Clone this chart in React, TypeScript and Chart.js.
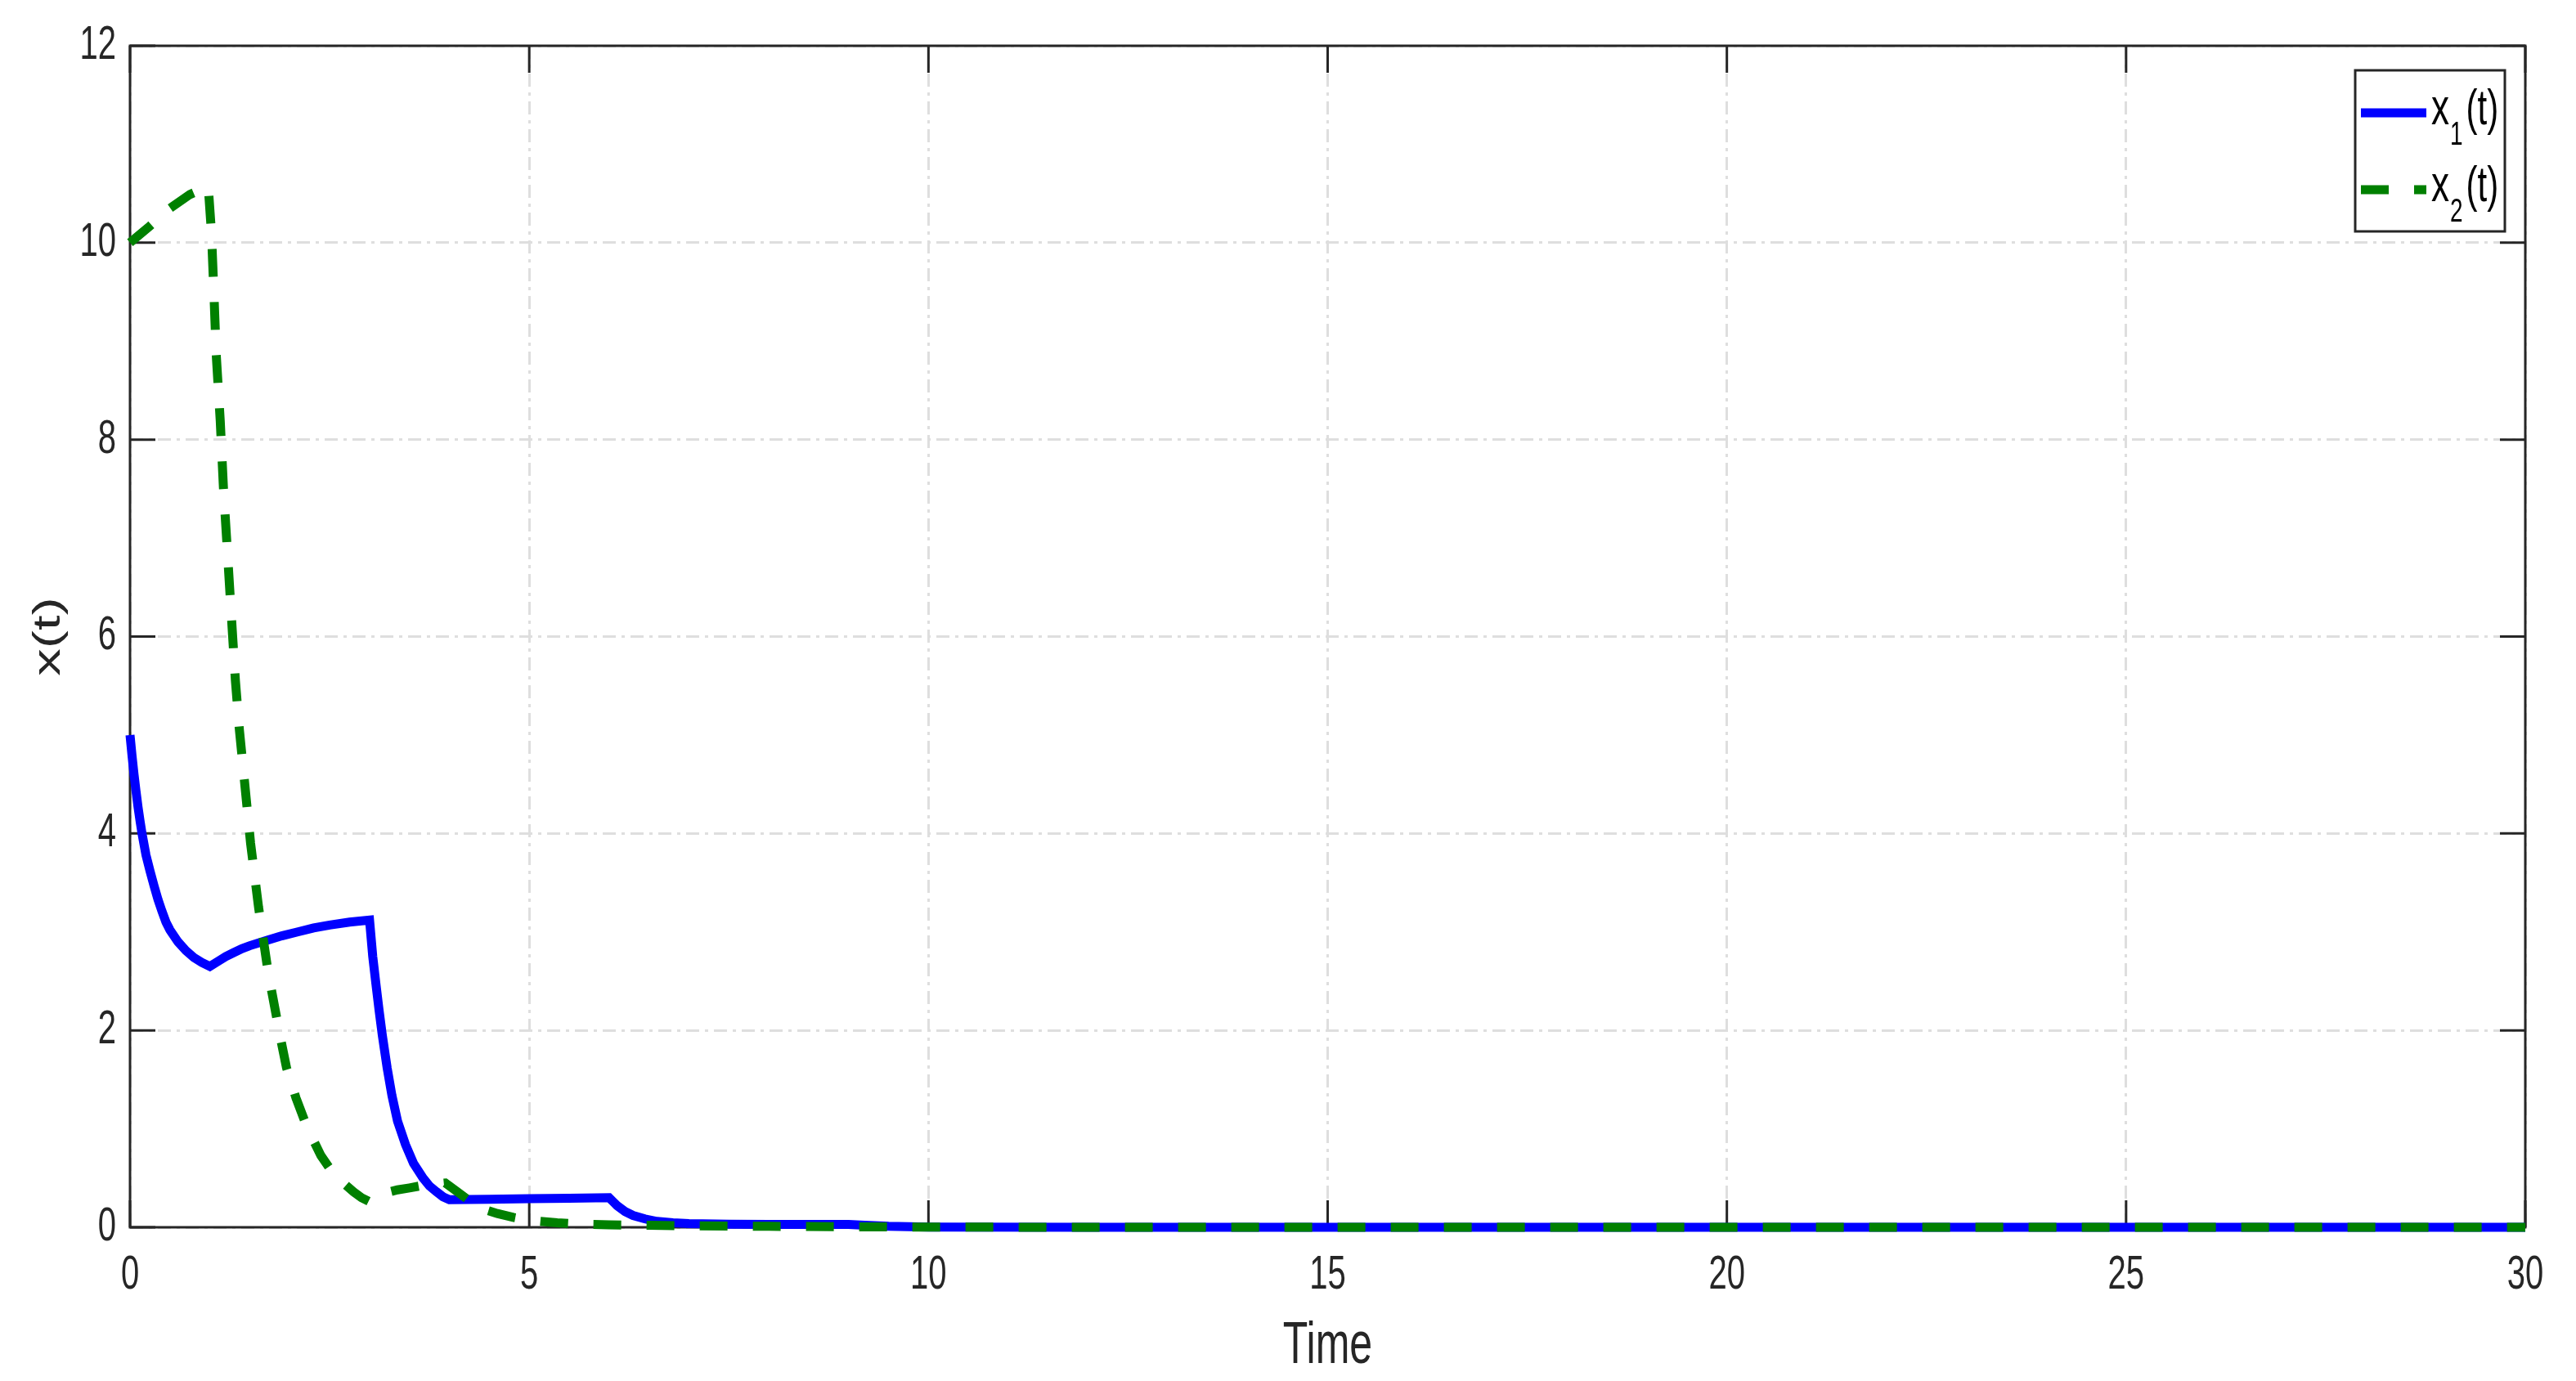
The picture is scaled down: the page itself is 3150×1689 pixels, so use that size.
import { useEffect, useRef } from 'react';
import { Chart, ChartConfiguration, registerables } from 'chart.js';

Chart.register(...registerables);

// x1(t): solid blue
const x1Time = [
  0, 0.025, 0.05, 0.075, 0.1, 0.125, 0.15, 0.2, 0.25, 0.3, 0.35, 0.4, 0.45, 0.5, 0.6, 0.7, 0.8, 0.9, 1.0,
  1.1, 1.2, 1.3, 1.4, 1.5, 1.7, 1.9, 2.1, 2.3, 2.5, 2.75, 3.0,
  3.04, 3.08, 3.12, 3.16, 3.22, 3.28, 3.35, 3.45, 3.55, 3.67, 3.75, 3.84, 3.92, 4.0,
  4.5, 5.0, 5.5, 6.0,
  6.05, 6.1, 6.2, 6.3, 6.45, 6.6, 6.8, 7.0, 7.5, 8.0, 9.0, 9.2, 9.5, 10, 12, 30,
];
const x1Values = [
  5.0, 4.79, 4.6, 4.43, 4.27, 4.13, 4.0, 3.78, 3.62, 3.47, 3.33, 3.21, 3.1, 3.02, 2.9, 2.81, 2.74, 2.69, 2.65,
  2.7, 2.75, 2.79, 2.83, 2.86, 2.91, 2.96, 3.0, 3.04, 3.07, 3.1, 3.12,
  2.75, 2.47, 2.2, 1.95, 1.62, 1.34, 1.08, 0.84, 0.65, 0.5, 0.42, 0.36, 0.31, 0.28,
  0.285, 0.29, 0.295, 0.3,
  0.26, 0.22, 0.16, 0.12, 0.085, 0.06, 0.045, 0.037, 0.032, 0.03, 0.03, 0.02, 0.01, 0.003, 0, 0,
];

// x2(t): dashed green
const x2Time = [
  0, 0.25, 0.5, 0.75, 0.98,
  1.02, 1.05, 1.08, 1.13, 1.17, 1.22, 1.27, 1.32, 1.37, 1.43, 1.51, 1.61, 1.73, 1.88,
  1.96, 2.08, 2.22, 2.39, 2.5, 2.61, 2.7, 2.8, 2.9, 3.0,
  3.1, 3.2, 3.35, 3.5, 3.7, 3.95,
  4.1, 4.25, 4.4, 4.6, 4.8, 5.0, 5.35, 5.7, 6.0, 6.5, 7.0, 8.0, 9.0, 10, 12, 30,
];
const x2Values = [
  10.0, 10.17, 10.35, 10.49, 10.57,
  10.1, 9.5, 8.86, 8.19, 7.51, 6.86, 6.2, 5.55, 5.05, 4.56, 3.9, 3.25, 2.59, 1.94,
  1.62, 1.31, 1.01, 0.73, 0.6, 0.5, 0.43, 0.36, 0.3, 0.26,
  0.31, 0.35, 0.38, 0.4, 0.43, 0.45,
  0.36, 0.27, 0.19, 0.14, 0.1, 0.07, 0.045, 0.03, 0.025, 0.02, 0.015, 0.01, 0.005, 0.002, 0, 0,
];

const seriesLabels = ['x_1(t)', 'x_2(t)'];
const xTicks = [0, 5, 10, 15, 20, 25, 30];
const yTicks = [0, 2, 4, 6, 8, 10, 12];
const xTitle = 'Time';
const yTitle = 'x(t)';

const AXIS_COLOR = '#262626';
const FONT = "'Liberation Sans', Arial, sans-serif";
// the original figure was exported with text stretched vertically
const STRETCH = 1.45;

function tallText(
  ctx: CanvasRenderingContext2D,
  text: string,
  x: number,
  y: number,
  size: number,
  align: CanvasTextAlign,
  baseline: CanvasTextBaseline,
  rotate = false
) {
  ctx.save();
  ctx.translate(x, y);
  ctx.scale(1, STRETCH);
  if (rotate) ctx.rotate(-Math.PI / 2);
  ctx.font = `${size}px ${FONT}`;
  ctx.textAlign = align;
  ctx.textBaseline = baseline;
  ctx.fillText(text, 0, 0);
  ctx.restore();
  ctx.font = `${size}px ${FONT}`;
  return ctx.measureText(text).width;
}

// MATLAB style box, inward ticks, labels and boxed legend
const matlabAxes = {
  id: 'matlabAxes',
  beforeDatasetsDraw(chart: any) {
    const { ctx, chartArea: a, scales } = chart;
    ctx.save();
    ctx.strokeStyle = AXIS_COLOR;
    ctx.lineWidth = 3;
    ctx.setLineDash([]);
    ctx.beginPath();
    xTicks.forEach(v => {
      const px = scales.x.getPixelForValue(v);
      ctx.moveTo(px, a.bottom);
      ctx.lineTo(px, a.bottom - 33);
      ctx.moveTo(px, a.top);
      ctx.lineTo(px, a.top + 33);
    });
    yTicks.forEach(v => {
      const py = scales.y.getPixelForValue(v);
      ctx.moveTo(a.left, py);
      ctx.lineTo(a.left + 31, py);
      ctx.moveTo(a.right, py);
      ctx.lineTo(a.right - 31, py);
    });
    ctx.stroke();
    ctx.strokeRect(a.left, a.top, a.right - a.left, a.bottom - a.top);

    ctx.fillStyle = AXIS_COLOR;
    xTicks.forEach(v => {
      tallText(ctx, String(v), scales.x.getPixelForValue(v), a.bottom + 59, 40, 'center', 'middle');
    });
    yTicks.forEach(v => {
      tallText(ctx, String(v), a.left - 17, scales.y.getPixelForValue(v), 40, 'right', 'middle');
    });
    tallText(ctx, xTitle, (a.left + a.right) / 2, a.bottom + 146, 50, 'center', 'middle');
    tallText(ctx, yTitle, 60, (a.top + a.bottom) / 2, 46, 'center', 'middle', true);
    ctx.restore();
  },
  afterDraw(chart: any) {
    const { ctx, chartArea: a } = chart;
    const right = a.right - 25;
    const top = a.top + 30;
    const w = 183;
    const h = 197;
    const left = right - w;
    ctx.save();
    ctx.fillStyle = '#ffffff';
    ctx.fillRect(left, top, w, h);
    ctx.strokeStyle = AXIS_COLOR;
    ctx.lineWidth = 3;
    ctx.setLineDash([]);
    ctx.strokeRect(left, top, w, h);

    chart.data.datasets.forEach((ds: any, i: number) => {
      const ly = top + 52 + i * 94;
      ctx.strokeStyle = ds.borderColor;
      ctx.lineWidth = 11;
      ctx.lineCap = 'butt';
      ctx.setLineDash(ds.borderDash || []);
      ctx.beginPath();
      ctx.moveTo(left + 7, ly);
      ctx.lineTo(left + 87, ly);
      ctx.stroke();
      ctx.setLineDash([]);

      const [base, rest] = String(ds.label).split('_');
      const sub = rest.charAt(0);
      const tail = rest.slice(1);
      const baseline = ly + 14;
      let tx = left + 93;
      ctx.fillStyle = '#000000';
      tx += tallText(ctx, base, tx, baseline, 44, 'left', 'alphabetic') + 1;
      tx += tallText(ctx, sub, tx, baseline + 25, 28, 'left', 'alphabetic') + 4;
      tallText(ctx, tail, tx, baseline, 42, 'left', 'alphabetic');
    });
    ctx.restore();
  },
};

export default function App() {
  const canvasRef = useRef<HTMLCanvasElement>(null);
  const chartRef = useRef<Chart | null>(null);

  useEffect(() => {
    if (!canvasRef.current) return;
    if (chartRef.current) chartRef.current.destroy();
    const ctx = canvasRef.current.getContext('2d');
    if (!ctx) return;

    const config: ChartConfiguration = {
      type: 'line',
      data: {
        datasets: [
          {
            label: seriesLabels[0],
            data: x1Time.map((t, i) => ({ x: t, y: x1Values[i] })),
            borderColor: '#0000ff',
            borderWidth: 11,
            pointRadius: 0,
            tension: 0,
            fill: false,
            clip: false,
            order: 2,
          } as any,
          {
            label: seriesLabels[1],
            data: x2Time.map((t, i) => ({ x: t, y: x2Values[i] })),
            borderColor: '#008000',
            borderWidth: 11,
            borderDash: [34, 31],
            borderCapStyle: 'butt',
            pointRadius: 0,
            tension: 0,
            fill: false,
            clip: false,
            order: 1,
          } as any,
        ],
      },
      options: {
        responsive: true,
        maintainAspectRatio: false,
        animation: false,
        layout: { padding: { top: 56, right: 62, left: 0, bottom: 0 } },
        plugins: {
          legend: { display: false },
          tooltip: { enabled: false },
        },
        scales: {
          x: {
            type: 'linear',
            min: 0,
            max: 30,
            afterBuildTicks: (s: any) => {
              s.ticks = xTicks.map(v => ({ value: v }));
            },
            afterFit: (s: any) => {
              s.height = 188;
            },
            ticks: { display: false },
            grid: { color: '#dedede', lineWidth: 3, drawTicks: false },
            border: { display: false, dash: [16, 7, 4, 7] },
          },
          y: {
            type: 'linear',
            min: 0,
            max: 12,
            afterBuildTicks: (s: any) => {
              s.ticks = yTicks.map(v => ({ value: v }));
            },
            afterFit: (s: any) => {
              s.width = 159;
            },
            ticks: { display: false },
            grid: { color: '#dedede', lineWidth: 3, drawTicks: false },
            border: { display: false, dash: [16, 7, 4, 7] },
          },
        },
      },
      plugins: [matlabAxes as any],
    };

    chartRef.current = new Chart(ctx, config);
    return () => {
      if (chartRef.current) {
        chartRef.current.destroy();
        chartRef.current = null;
      }
    };
  }, []);

  return (
    <div
      style={{
        position: 'fixed',
        left: 0,
        top: 0,
        width: '3150px',
        height: '1689px',
        background: '#ffffff',
      }}
    >
      <canvas ref={canvasRef}></canvas>
    </div>
  );
}
